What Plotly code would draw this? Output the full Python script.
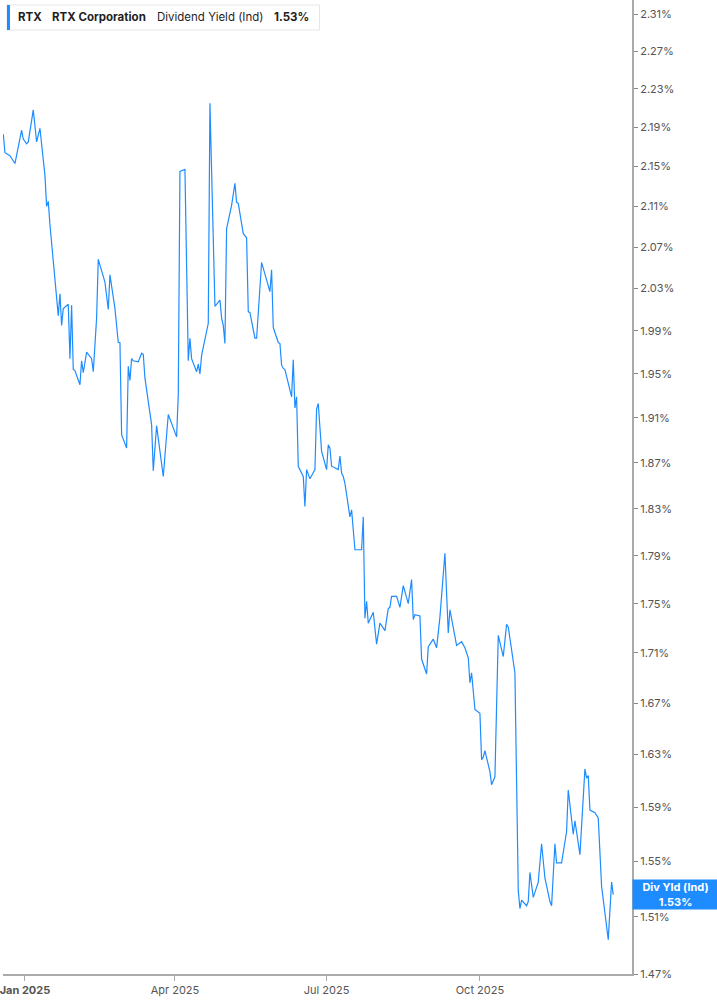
import math
import plotly.graph_objects as go

# ---- data ----
dates = [
    "2024-12-19", "2024-12-20", "2024-12-23", "2024-12-26", "2024-12-30", "2024-12-31",
    "2025-01-02", "2025-01-03", "2025-01-06", "2025-01-08", "2025-01-10", "2025-01-13",
    "2025-01-14", "2025-01-15", "2025-01-16", "2025-01-17", "2025-01-19", "2025-01-21",
    "2025-01-22", "2025-01-23", "2025-01-24", "2025-01-27", "2025-01-28", "2025-01-29",
    "2025-01-30", "2025-01-31", "2025-02-03", "2025-02-04", "2025-02-05", "2025-02-07",
    "2025-02-10", "2025-02-11", "2025-02-13", "2025-02-14", "2025-02-18", "2025-02-20",
    "2025-02-21", "2025-02-24", "2025-02-26", "2025-02-27", "2025-02-28", "2025-03-03",
    "2025-03-04", "2025-03-05", "2025-03-06", "2025-03-07", "2025-03-10", "2025-03-12",
    "2025-03-13", "2025-03-14", "2025-03-18", "2025-03-19", "2025-03-21", "2025-03-25",
    "2025-03-28", "2025-04-02", "2025-04-03", "2025-04-04", "2025-04-07", "2025-04-08",
    "2025-04-09", "2025-04-10", "2025-04-11", "2025-04-14", "2025-04-15", "2025-04-16",
    "2025-04-17", "2025-04-21", "2025-04-22", "2025-04-24", "2025-04-25", "2025-04-28",
    "2025-04-29", "2025-04-30", "2025-05-01", "2025-05-02", "2025-05-05", "2025-05-07",
    "2025-05-08", "2025-05-09", "2025-05-12", "2025-05-14", "2025-05-15", "2025-05-16",
    "2025-05-19", "2025-05-20", "2025-05-22", "2025-05-23", "2025-05-28", "2025-05-29",
    "2025-05-30", "2025-06-02", "2025-06-03", "2025-06-04", "2025-06-05", "2025-06-06",
    "2025-06-10", "2025-06-11", "2025-06-12", "2025-06-13", "2025-06-14", "2025-06-17",
    "2025-06-18", "2025-06-19", "2025-06-21", "2025-06-24", "2025-06-25", "2025-06-26",
    "2025-06-28", "2025-07-01", "2025-07-02", "2025-07-03", "2025-07-04", "2025-07-08",
    "2025-07-09", "2025-07-10", "2025-07-11", "2025-07-12", "2025-07-15", "2025-07-16",
    "2025-07-18", "2025-07-22", "2025-07-23", "2025-07-24", "2025-07-25", "2025-07-26",
    "2025-07-29", "2025-07-31", "2025-08-02", "2025-08-05", "2025-08-07", "2025-08-08",
    "2025-08-09", "2025-08-12", "2025-08-14", "2025-08-16", "2025-08-19", "2025-08-21",
    "2025-08-22", "2025-08-23", "2025-08-26", "2025-08-27", "2025-08-30", "2025-08-31",
    "2025-09-03", "2025-09-05", "2025-09-07", "2025-09-10", "2025-09-12", "2025-09-13",
    "2025-09-17", "2025-09-20", "2025-09-22", "2025-09-24", "2025-09-25", "2025-09-26",
    "2025-09-28", "2025-10-01", "2025-10-02", "2025-10-03", "2025-10-04", "2025-10-07",
    "2025-10-08", "2025-10-10", "2025-10-12", "2025-10-13", "2025-10-15", "2025-10-17",
    "2025-10-18", "2025-10-22", "2025-10-24", "2025-10-25", "2025-10-26", "2025-10-29",
    "2025-10-30", "2025-10-31", "2025-11-02", "2025-11-05", "2025-11-07", "2025-11-09",
    "2025-11-12", "2025-11-13", "2025-11-15", "2025-11-16", "2025-11-19", "2025-11-22",
    "2025-11-23", "2025-11-26", "2025-11-27", "2025-11-30", "2025-12-03", "2025-12-04",
    "2025-12-05", "2025-12-06", "2025-12-09", "2025-12-11", "2025-12-13", "2025-12-17",
    "2025-12-19", "2025-12-20",
]

div_yield = [
    2.183, 2.164, 2.161, 2.153, 2.187, 2.178,
    2.173, 2.175, 2.208, 2.175, 2.189, 2.141,
    2.110, 2.115, 2.092, 2.075, 2.043, 2.004,
    2.025, 1.995, 2.011, 2.015, 1.964, 2.014,
    1.954, 1.953, 1.940, 1.962, 1.951, 1.970,
    1.964, 1.952, 2.002, 2.058, 2.036, 2.010,
    2.043, 2.011, 1.979, 1.979, 1.895, 1.883,
    1.957, 1.944, 1.964, 1.962, 1.961, 1.969,
    1.968, 1.946, 1.904, 1.863, 1.903, 1.858,
    1.913, 1.893, 1.931, 2.145, 2.147, 2.052,
    1.962, 1.983, 1.964, 1.952, 1.959, 1.950,
    1.967, 1.997, 2.215, 2.078, 2.013, 2.019,
    2.002, 1.995, 1.978, 2.088, 2.111, 2.133,
    2.114, 2.113, 2.083, 2.079, 2.008, 2.007,
    1.983, 1.983, 2.025, 2.055, 2.027, 2.048,
    1.993, 1.979, 1.978, 1.958, 1.955, 1.954,
    1.929, 1.963, 1.919, 1.929, 1.867, 1.858,
    1.832, 1.864, 1.856, 1.864, 1.918, 1.923,
    1.880, 1.864, 1.886, 1.883, 1.867, 1.864,
    1.876, 1.861, 1.858, 1.852, 1.823, 1.829,
    1.795, 1.795, 1.823, 1.738, 1.752, 1.734,
    1.743, 1.717, 1.734, 1.728, 1.746, 1.747,
    1.756, 1.756, 1.747, 1.765, 1.750, 1.770,
    1.737, 1.741, 1.740, 1.705, 1.693, 1.715,
    1.721, 1.714, 1.739, 1.792, 1.726, 1.745,
    1.716, 1.719, 1.714, 1.706, 1.686, 1.694,
    1.665, 1.662, 1.626, 1.628, 1.633, 1.617,
    1.607, 1.613, 1.724, 1.718, 1.707, 1.733,
    1.731, 1.694, 1.529, 1.516, 1.522, 1.518,
    1.521, 1.542, 1.524, 1.535, 1.563, 1.538,
    1.521, 1.518, 1.563, 1.549, 1.549, 1.572,
    1.603, 1.570, 1.580, 1.555, 1.619, 1.612,
    1.614, 1.588, 1.586, 1.582, 1.532, 1.494,
    1.535, 1.526,
]

y_ticks = [1.47, 1.51, 1.55, 1.59, 1.63, 1.67, 1.71, 1.75, 1.79, 1.83, 1.87,
           1.91, 1.95, 1.99, 2.03, 2.07, 2.11, 2.15, 2.19, 2.23, 2.27, 2.31]
y_tick_labels = [f"{v:.2f}%" for v in y_ticks]

x_ticks = ["2025-01-01", "2025-04-01", "2025-07-01", "2025-10-01"]
x_tick_labels = ["<b>Jan 2025</b>", "Apr 2025", "Jul 2025", "Oct 2025"]

ticker = "RTX"
company = "RTX Corporation"
metric = "Dividend Yield (Ind)"
last_label = "1.53%"

# ---- figure ----
LINE = "#1E8CFF"
FONT = "Inter, Roboto, sans-serif"
W, H = 717, 1005
ML, MR, MT, MB = 0, 85, 0, 31
PW, PH = W - ML - MR, H - MT - MB

fig = go.Figure()
fig.add_trace(go.Scatter(
    x=dates, y=div_yield, mode="lines",
    line=dict(color=LINE, width=1.2),
    hoverinfo="skip", showlegend=False,
))

fig.update_layout(
    width=W, height=H,
    margin=dict(l=ML, r=MR, t=MT, b=MB, pad=0),
    paper_bgcolor="white", plot_bgcolor="white",
    font=dict(family=FONT, size=11, color="#555"),
    showlegend=False,
)

fig.update_xaxes(
    type="date",
    range=["2024-12-18T20:00", "2025-12-31T06:00"],
    tickmode="array", tickvals=x_ticks, ticktext=x_tick_labels,
    ticklabeloverflow="allow",
    showgrid=False, zeroline=False,
    showline=True, linecolor="#aaaaaa", linewidth=2,
    ticks="outside", ticklen=5, tickcolor="#aaaaaa", tickwidth=1,
    tickfont=dict(family=FONT, size=11, color="#555"),
)

fig.update_yaxes(
    type="log", side="right",
    range=[math.log10(1.47), math.log10(2.3253)],
    tickmode="array", tickvals=y_ticks, ticktext=y_tick_labels,
    ticklabeloverflow="allow",
    showgrid=False, zeroline=False,
    showline=True, linecolor="#aaaaaa", linewidth=2,
    ticks="outside", ticklen=4, tickcolor="#888888", tickwidth=1,
    tickfont=dict(family=FONT, size=11, color="#555"),
)

# header box (top-left)
def px_x(p):
    return (p - ML) / PW

def px_y(p):
    return 1 - (p - MT) / PH

fig.add_shape(type="rect", xref="paper", yref="paper",
              x0=px_x(4), x1=px_x(318), y0=px_y(30), y1=px_y(5),
              line=dict(color="#e6e6e6", width=1), fillcolor="white", layer="above")
fig.add_shape(type="rect", xref="paper", yref="paper",
              x0=px_x(4), x1=px_x(7), y0=px_y(30), y1=px_y(5),
              line=dict(width=0), fillcolor=LINE, layer="above")

header_items = [
    (13, f"<b>{ticker}</b>"),
    (47, f"<b>{company}</b>"),
    (153, metric),
    (270, f"<b>{last_label}</b>"),
]
for xp, txt in header_items:
    fig.add_annotation(xref="paper", yref="paper", x=px_x(xp), y=px_y(17.5),
                       xanchor="left", yanchor="middle", showarrow=False,
                       text=txt, font=dict(family=FONT, size=11.5, color="#1f1f1f"))

# last value label on the right axis
fig.add_annotation(
    xref="paper", yref="y", x=1, y=math.log10(div_yield[-1]),
    xanchor="left", yanchor="middle", showarrow=False,
    text=f"<b>Div Yld (Ind)</b><br><b>{last_label}</b>",
    font=dict(family=FONT, size=11, color="white"),
    bgcolor=LINE, width=81, height=25, borderpad=2, align="center",
)

fig.write_html(
    "out.html",
    config={"displayModeBar": False},
    post_script="document.body.style.margin='0';document.body.style.overflow='hidden';",
)
